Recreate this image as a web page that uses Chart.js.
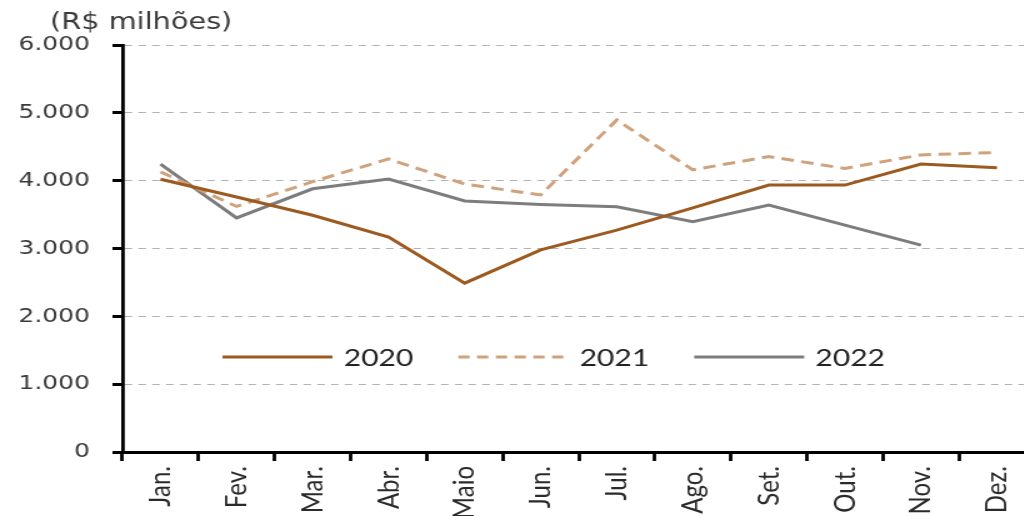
<!DOCTYPE html>
<html><head><meta charset="utf-8">
<script src="https://cdn.jsdelivr.net/npm/chart.js@4.4.1/dist/chart.umd.min.js"></script>
<style>
html,body{margin:0;padding:0;background:#fff;overflow:hidden;width:1024px;height:516px}
#wrap{position:absolute;left:0;top:0;width:832px;height:516px;transform:scaleX(1.25);transform-origin:0 0}
canvas{display:block}
</style></head><body>
<div id="wrap"><canvas id="c" width="832" height="516"></canvas></div>
<script>
const unitTitle = '(R$ milhões)';
const categories = ['Jan.','Fev.','Mar.','Abr.','Maio','Jun.','Jul.','Ago.','Set.','Out.','Nov.','Dez.'];
const seriesNames = ['2020','2021','2022'];
const values2020 = [4020, 3760, 3490, 3170, 2490, 2980, 3270, 3600, 3935, 3935, 4245, 4190];
const values2021 = [4130, 3620, 3985, 4320, 3950, 3790, 4895, 4160, 4355, 4180, 4380, 4415];
const values2022 = [4245, 3450, 3880, 4025, 3700, 3650, 3615, 3395, 3640, 3345, 3050, null];
const yTicks = [0, 1000, 2000, 3000, 4000, 5000, 6000];

function fmt(v){ return String(v).replace(/\B(?=(\d{3})+(?!\d))/g, '.'); }

const overlay = {
  id: 'overlay',
  afterDraw(chart) {
    const ctx = chart.ctx;
    ctx.save();
    ctx.fillStyle = '#3a3a3a';
    ctx.font = '23px "DejaVu Sans"';
    ctx.textBaseline = 'middle';
    ctx.textAlign = 'left';
    ctx.fillText(unitTitle, 40, 23);
    let x = 178;
    const y = 357;
    ctx.font = '24px Lato';
    chart.data.datasets.forEach(ds => {
      ctx.strokeStyle = ds.borderColor;
      ctx.lineWidth = ds.borderWidth;
      ctx.setLineDash(ds.borderDash ? [9, 6] : []);
      ctx.beginPath(); ctx.moveTo(x, y); ctx.lineTo(x + 88, y); ctx.stroke();
      ctx.setLineDash([]);
      ctx.fillStyle = '#222';
      ctx.fillText(ds.label, x + 97, y + 1);
      x += 97 + ctx.measureText(ds.label).width + 36;
    });
    ctx.restore();
  }
};

function draw(){
  new Chart(document.getElementById('c'), {
    type: 'line',
    data: {
      labels: categories,
      datasets: [
        {label: seriesNames[0], data: values2020, borderColor: '#9c5a20', borderWidth: 3, pointRadius: 0, tension: 0},
        {label: seriesNames[1], data: values2021, borderColor: '#cfa27c', borderWidth: 3, borderDash: [10, 6], pointRadius: 0, tension: 0},
        {label: seriesNames[2], data: values2022, borderColor: '#7d7d7d', borderWidth: 3, pointRadius: 0, tension: 0}
      ]
    },
    options: {
      responsive: false,
      animation: false,
      devicePixelRatio: 1,
      layout: {padding: {left: 0, right: 4, top: 45, bottom: 0}},
      plugins: {legend: {display: false}, title: {display: false}, tooltip: {enabled: false}},
      scales: {
        x: {
          offset: true,
          grid: {display: true, drawOnChartArea: false, drawTicks: true, offset: true, tickLength: 9, tickWidth: 2.8, tickColor: '#000'},
          border: {display: true, color: '#000', width: 3},
          ticks: {minRotation: 90, maxRotation: 90, autoSkip: false, padding: 5, color: '#2a2a2a', font: {family: 'Lato', size: 24}},
          afterFit(s){ s.height = 64; }
        },
        y: {
          min: 0, max: 6000,
          afterBuildTicks(s){ s.ticks = yTicks.map(v => ({value: v})); },
          grid: {
            color: c => (c.tick && c.tick.value === 0) ? 'rgba(0,0,0,0)' : '#b3b3b3',
            lineWidth: 1, drawTicks: true, tickLength: 8, tickWidth: 3, tickColor: '#000', tickBorderDash: []
          },
          border: {display: true, color: '#000', width: 2.8, dash: [6, 5]},
          ticks: {padding: 18, color: '#3a3a3a', font: {family: 'DejaVu Sans', size: 20}, callback: v => fmt(v)},
          afterFit(s){ s.width = 98; }
        }
      }
    },
    plugins: [overlay]
  });
}
Promise.all([document.fonts.load('24px Lato'), document.fonts.load('20px "DejaVu Sans"')]).then(draw, draw);
</script>
</body></html>
